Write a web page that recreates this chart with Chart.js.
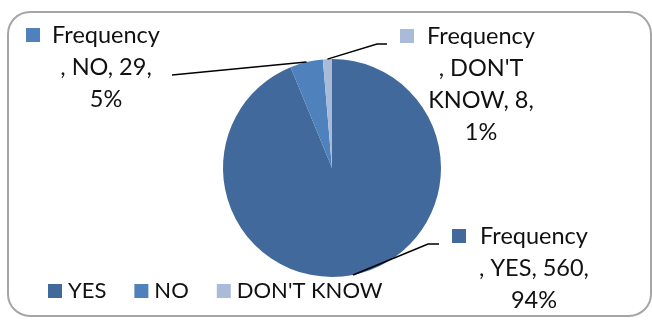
<!DOCTYPE html>
<html>
<head>
<meta charset="utf-8">
<script src="https://cdn.jsdelivr.net/npm/chart.js@4/dist/chart.umd.min.js"></script>
<style>
  html, body { margin: 0; padding: 0; background: #fff; }
  #wrap { width: 652px; height: 320px; position: relative; }
</style>
</head>
<body>
<div id="wrap"><canvas id="chart"></canvas></div>
<script>
const seriesName = "Frequency";
const categories = ["YES", "NO", "DON'T KNOW"];
const frequency = [560, 29, 8];
const colors = ["#41699b", "#4f81bd", "#a9bbd9"];

const font = "Lato, 'Open Sans', sans-serif";

// where each callout box sits (marker top-left) and where its leader bends
const callouts = [
  { mx: 452, my: 229, cx: 534, elbow: [[439, 244], [428, 244]] },
  { mx: 26,  my: 28,  cx: 106, elbow: [[172, 75]] },
  { mx: 400, my: 29,  cx: 481, elbow: [[387, 44], [377, 44]] }
];

const frame = {
  id: "frame",
  beforeDraw(chart) {
    const ctx = chart.ctx;
    ctx.save();
    ctx.strokeStyle = "#a6a6a6";
    ctx.lineWidth = 2;
    ctx.beginPath();
    ctx.roundRect(8, 12, 643, 304, 22);
    ctx.stroke();
    ctx.restore();
  }
};

const callout = {
  id: "callout",
  afterDraw(chart) {
    const ctx = chart.ctx;
    const meta = chart.getDatasetMeta(0);
    const data = chart.data.datasets[0].data;
    const total = data.reduce((a, b) => a + b, 0);
    ctx.save();

    meta.data.forEach((arc, i) => {
      const c = callouts[i];
      const mid = (arc.startAngle + arc.endAngle) / 2;
      const ex = arc.x + Math.cos(mid) * arc.outerRadius;
      const ey = arc.y + Math.sin(mid) * arc.outerRadius;

      // leader line
      ctx.strokeStyle = "#000";
      ctx.lineWidth = 1.5;
      ctx.beginPath();
      ctx.moveTo(c.elbow[0][0], c.elbow[0][1]);
      c.elbow.slice(1).forEach(p => ctx.lineTo(p[0], p[1]));
      ctx.lineTo(ex, ey);
      ctx.stroke();

      // label text
      const pct = Math.round(data[i] / total * 100) + "%";
      const cat = categories[i];
      let lines;
      if (cat === "DON'T KNOW") {
        lines = [seriesName, ", DON'T", "KNOW, " + data[i] + ",", pct];
      } else {
        lines = [seriesName, ", " + cat + ", " + data[i] + ",", pct];
      }
      ctx.fillStyle = colors[i];
      ctx.fillRect(c.mx, c.my, 14, 14);
      ctx.fillStyle = "#111";
      ctx.font = "23.5px " + font;
      ctx.textAlign = "center";
      ctx.textBaseline = "alphabetic";
      lines.forEach((t, k) => ctx.fillText(t, c.cx, c.my + 15 + k * 32));
    });

    // legend row
    ctx.font = "22px " + font;
    ctx.textAlign = "left";
    let x = 48;
    categories.forEach((cat, i) => {
      ctx.fillStyle = colors[i];
      ctx.fillRect(x, 284, 14, 14);
      ctx.fillStyle = "#111";
      ctx.fillText(cat, x + 20, 298);
      x += 20 + ctx.measureText(cat).width + 28;
    });
    ctx.restore();
  }
};

new Chart(document.getElementById("chart"), {
  type: "pie",
  data: {
    labels: categories,
    datasets: [{
      label: seriesName,
      data: frequency,
      backgroundColor: colors,
      borderWidth: 0,
      hoverOffset: 0
    }]
  },
  options: {
    responsive: true,
    maintainAspectRatio: false,
    animation: false,
    layout: { padding: { top: 59, bottom: 43, left: 223, right: 211 } },
    plugins: {
      legend: { display: false },
      tooltip: { enabled: false }
    }
  },
  plugins: [frame, callout]
});
</script>
</body>
</html>
